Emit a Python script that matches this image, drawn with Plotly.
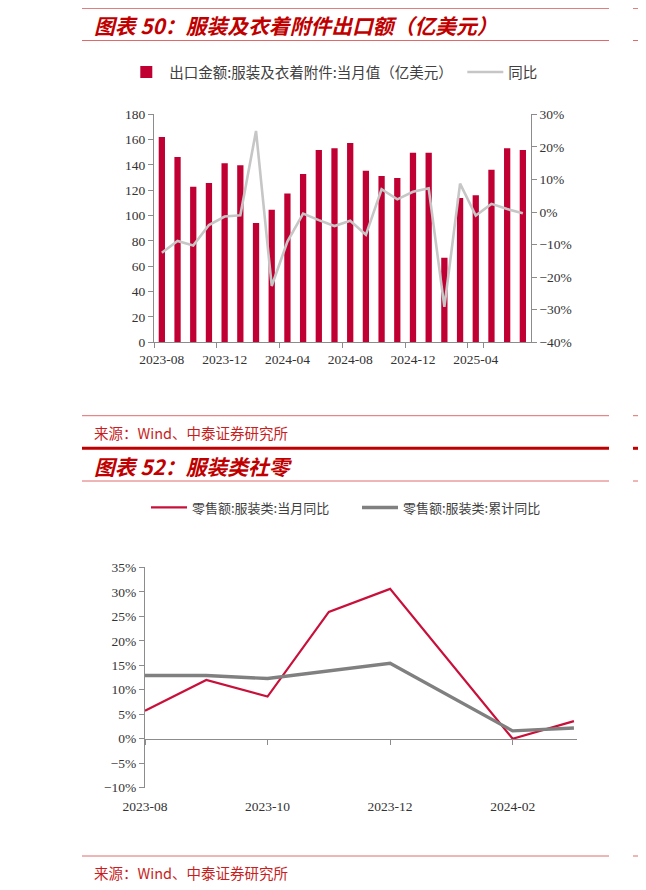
import plotly.graph_objects as go

W, H = 646, 890
OFF = 8  # page body margin


def px(x):
    return (x - OFF) / W


def py(y):
    return 1 - (y - OFF) / H


# ---------------- Chart 50: apparel export value ----------------
export_months = [
    "2023-08", "2023-09", "2023-10", "2023-11", "2023-12", "2024-01",
    "2024-02", "2024-03", "2024-04", "2024-05", "2024-06", "2024-07",
    "2024-08", "2024-09", "2024-10", "2024-11", "2024-12", "2025-01",
    "2025-02", "2025-03", "2025-04", "2025-05", "2025-06", "2025-07",
]
export_value = [
    162.1, 146.3, 122.9, 125.8, 141.3, 139.7, 94.2, 104.7, 117.4, 132.9,
    151.8, 153.2, 157.4, 135.5, 131.3, 129.7, 149.7, 149.7, 66.8, 113.9,
    116.1, 136.3, 153.2, 151.8,
]
export_yoy = [
    -12.5, -8.9, -10.3, -4.0, -1.4, -1.0, 24.9, -22.7, -9.1, -0.5,
    -2.5, -4.3, -2.7, -7.0, 7.0, 3.9, 6.2, 7.3, -29.1, 8.7,
    -1.1, 2.5, 0.9, -0.4,
]
export_ticks = ["2023-08", "2023-12", "2024-04", "2024-08", "2024-12", "2025-04"]

# ---------------- Chart 52: apparel retail sales ----------------
retail_months = ["2023-08", "2023-09", "2023-10", "2023-11", "2023-12",
                 "2024-01", "2024-02", "2024-03"]
retail_month_yoy = [5.7, 12.0, 8.6, 25.9, 30.6, None, 0.0, 3.6]
retail_cum_yoy = [12.9, 12.9, 12.3, 13.9, 15.4, None, 1.6, 2.2]
retail_ticks = ["2023-08", "2023-10", "2023-12", "2024-02"]

RED = "#C00000"
BAR_RED = "#C00032"
LINE_RED = "#C8103A"
THIN_RED = "#E06A6A"
AX = "#8C8C8C"
TXT = "#333333"
SERIF = "Liberation Serif"
CJK = "Noto Sans CJK SC"

fig = go.Figure()

fig.add_trace(go.Bar(
    x=export_months, y=export_value, name="出口金额:服装及衣着附件:当月值（亿美元）",
    marker=dict(color=BAR_RED, line=dict(width=0)), xaxis="x", yaxis="y",
    legend="legend", legendwidth=288,
))
fig.add_trace(go.Scatter(
    x=export_months, y=export_yoy, name="同比", mode="lines",
    line=dict(color="#C6C6C6", width=2.6), xaxis="x", yaxis="y2",
    legend="legend",
))

fig.add_trace(go.Scatter(
    x=retail_months, y=retail_month_yoy, name="零售额:服装类:当月同比",
    mode="lines", connectgaps=True, line=dict(color=LINE_RED, width=2.2),
    xaxis="x3", yaxis="y3", legend="legend2", legendwidth=160,
))
fig.add_trace(go.Scatter(
    x=retail_months, y=retail_cum_yoy, name="零售额:服装类:累计同比",
    mode="lines", connectgaps=True, line=dict(color="#808080", width=3.4),
    xaxis="x4", yaxis="y3", legend="legend2",
))

tickfont = dict(family=SERIF, size=13.5, color=TXT)

top_y = [py(342.3), py(114.3)]
bot_y = [py(787.7), py(567.3)]
zero_pos = bot_y[0] + (10 / 45) * (bot_y[1] - bot_y[0])
bot_x = [px(145), px(577)]
bot_range = [0, 7.05]

fig.update_layout(
    width=W, height=H,
    margin=dict(l=0, r=0, t=0, b=0, pad=0, autoexpand=False),
    paper_bgcolor="white", plot_bgcolor="white",
    bargap=0.6,
    xaxis=dict(
        domain=[px(154), px(530.7)], type="category", anchor="y",
        range=[-0.5, 23.5], tickson="boundaries", tickvals=export_ticks,
        ticks="outside", ticklen=5, tickcolor=AX, showline=True, linecolor=AX,
        linewidth=1, showgrid=False, tickfont=tickfont, zeroline=False,
        tickangle=0, automargin=False, ticklabelstandoff=4,
    ),
    yaxis=dict(
        domain=top_y, anchor="x", range=[0, 180], dtick=20, ticks="outside",
        ticklen=5, tickcolor=AX, showline=True, linecolor=AX, showgrid=False,
        zeroline=False, tickfont=tickfont, automargin=False,
    ),
    yaxis2=dict(
        anchor="x", overlaying="y", side="right", range=[-40, 30], dtick=10,
        ticksuffix="%", ticks="outside", ticklen=5, tickcolor=AX,
        showline=True, linecolor=AX, showgrid=False, zeroline=False,
        tickfont=tickfont, automargin=False,
    ),
    xaxis3=dict(
        domain=bot_x, type="category", anchor="y3",
        range=bot_range, tickvals=retail_ticks, ticks="outside", ticklen=6,
        tickcolor="rgba(0,0,0,0)", showline=False, tickangle=0,
        showgrid=False, zeroline=False, tickfont=tickfont, automargin=False,
    ),
    xaxis4=dict(
        domain=bot_x, type="category", overlaying="x3", anchor="free",
        position=zero_pos, range=bot_range, tickvals=retail_ticks,
        ticks="outside", ticklen=5, tickcolor=AX, showline=True, linecolor=AX,
        showticklabels=False, showgrid=False, zeroline=False, automargin=False,
    ),
    yaxis3=dict(
        domain=bot_y, anchor="x3", range=[-10, 35], dtick=5, ticksuffix="%",
        ticks="outside", ticklen=5, tickcolor=AX, showline=True, linecolor=AX,
        showgrid=False, zeroline=False, tickfont=tickfont, automargin=False,
    ),
    legend=dict(
        x=px(123.3), y=py(72), xanchor="left", yanchor="middle",
        orientation="h", font=dict(family=CJK, size=14.5, color="#404040"),
        bgcolor="rgba(0,0,0,0)", itemwidth=36,
    ),
    legend2=dict(
        x=px(146), y=py(507.5), xanchor="left", yanchor="middle",
        orientation="h", font=dict(family=CJK, size=13, color="#404040"),
        bgcolor="rgba(0,0,0,0)", itemwidth=36,
    ),
)

shapes = []
for (y, w, c) in [(7, 3, RED), (40.5, 1, THIN_RED), (415.7, 1, THIN_RED),
                  (448.3, 3, RED), (481, 1, THIN_RED), (856, 1, THIN_RED)]:
    for (x0, x1) in [(82, 609), (633, 660)]:
        shapes.append(dict(type="line", xref="paper", yref="paper",
                           x0=px(x0), x1=px(x1), y0=py(y), y1=py(y),
                           line=dict(color=c, width=w)))
fig.update_layout(shapes=shapes)

annotations = [
    dict(text="<b><i>图表 50：服装及衣着附件出口额（亿美元）</i></b>", x=px(92), y=py(25),
         font=dict(family=CJK, size=20.8, color=RED)),
    dict(text="来源：Wind、中泰证券研究所", x=px(92), y=py(432),
         font=dict(family=CJK, size=14.5, color="#C81E1E")),
    dict(text="<b><i>图表 52：服装类社零</i></b>", x=px(92), y=py(466),
         font=dict(family=CJK, size=20.8, color=RED)),
    dict(text="来源：Wind、中泰证券研究所", x=px(92), y=py(872),
         font=dict(family=CJK, size=14.5, color="#C81E1E")),
]
for a in annotations:
    a.update(xref="paper", yref="paper", xanchor="left", yanchor="middle",
             showarrow=False)
fig.update_layout(annotations=annotations)

fig.write_html("out.html")
